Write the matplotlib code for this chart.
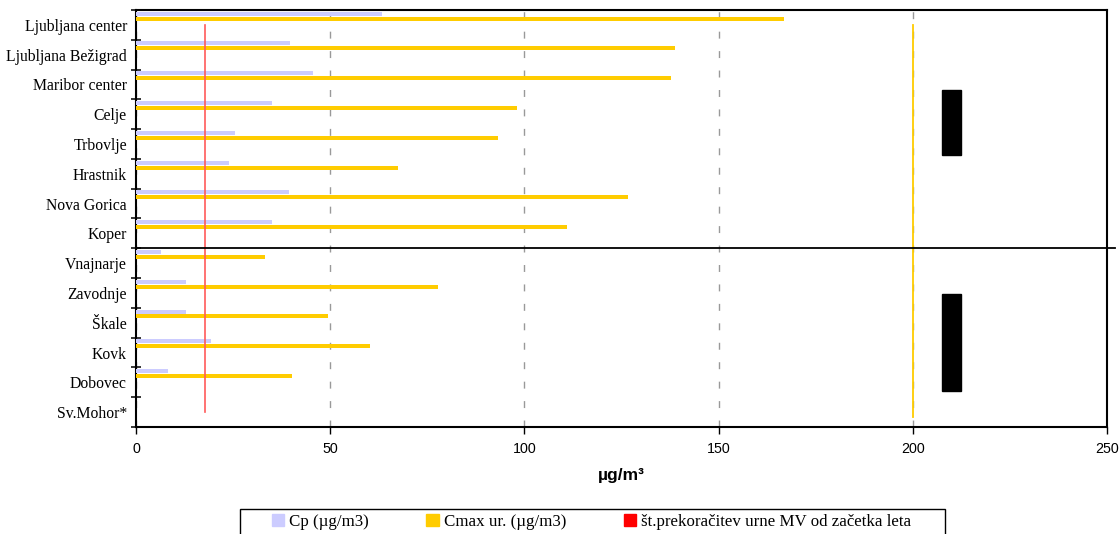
"""Horizontal bar chart: hourly concentrations per measuring station."""
import matplotlib
matplotlib.use("Agg")
import matplotlib.pyplot as plt
from matplotlib.patches import Patch, Rectangle
import numpy as np

STATIONS = ["Ljubljana center", "Ljubljana Bežigrad", "Maribor center", "Celje",
            "Trbovlje", "Hrastnik", "Nova Gorica", "Koper", "Vnajnarje",
            "Zavodnje", "Škale", "Kovk", "Dobovec", "Sv.Mohor*"]
CP = [63.3, 39.6, 45.5, 34.9, 25.4, 23.9, 39.3, 34.9, 6.4, 13.0, 13.0, 19.2, 8.2, 0.0]
CMAX = [166.8, 138.8, 137.7, 98.1, 93.2, 67.4, 126.7, 111.0, 33.2, 77.8, 49.4, 60.2, 40.2, 0.0]
LIMIT_HOURLY = 200      # gold vertical line
RED_LINE = 17.8         # red vertical line
# black blocks: (x0, x1, y0, y1) in value / station-band units
BLOCKS = [(207.5, 212.4, 2.68, 4.87), (207.5, 212.4, 9.53, 12.79)]
SPLIT = 8               # urban / rural separator

CP_C, CMAX_C, RED_C = "#ccccff", "#ffcc00", "#ff0000"
SERIF = ["Liberation Serif", "DejaVu Serif"]
SANS = ["Liberation Sans", "DejaVu Sans"]

W, H = 1120, 534
fig = plt.figure(figsize=(W / 100, H / 100), dpi=100)
ax = fig.add_axes([0.1214, 0.2004, 0.8670, 0.7809])

n = len(STATIONS)
y = np.arange(n)
ax.barh(y + 0.124, CP, height=0.134, color=CP_C, zorder=3)
ax.barh(y + 0.29, CMAX, height=0.134, color=CMAX_C, zorder=3)

ax.plot([RED_LINE, RED_LINE], [0.5, n - 0.5], color="#ff5a5a", lw=1.2, zorder=4)
ax.plot([LIMIT_HOURLY, LIMIT_HOURLY], [0.5, n - 0.35], color=CMAX_C, lw=1.3, zorder=4)
for x0, x1, y0, y1 in BLOCKS:
    ax.add_patch(Rectangle((x0, y0), x1 - x0, y1 - y0, color="black", zorder=4))
ax.plot([0, 252], [SPLIT, SPLIT], color="black", lw=1.3, clip_on=False, zorder=5)

ax.set_xlim(0, 250)
ax.set_ylim(n, 0)
ax.set_xticks([0, 50, 100, 150, 200, 250])
ax.set_yticks(y + 0.5)
ax.set_yticklabels(STATIONS, family=SERIF, fontsize=11.3)
ax.set_yticks(np.arange(n + 1), minor=True)
ax.tick_params(axis="y", which="major", length=0, pad=6.5)
ax.tick_params(axis="y", which="minor", length=7, direction="inout", width=1.1)
ax.tick_params(axis="x", length=5, direction="out", width=1.0, pad=5.5, labelsize=10.3)
for lab in ax.get_xticklabels():
    lab.set_family(SANS)

ax.grid(axis="x", color="#999999", lw=1.0, ls=(0, (5, 9)), zorder=1)
for s in ax.spines.values():
    s.set_linewidth(1.5)

ax.set_xlabel("µg/m³", fontsize=12.5, fontweight="bold", labelpad=9, family=SANS)

# legend: frame drawn by hand, runs off the bottom edge like the original
fig.patches.append(Rectangle((240 / W, -0.02), (945 - 240) / W, 0.02 + 1 - 509 / H,
                             transform=fig.transFigure, fill=False,
                             edgecolor="black", lw=1.0))
handles = [Patch(color=CP_C, label="Cp (µg/m3)"),
           Patch(color=CMAX_C, label="Cmax ur. (µg/m3)"),
           Patch(color=RED_C, label="št.prekoračitev urne MV od začetka leta")]
fig.legend(handles=handles, loc="upper left", bbox_to_anchor=(272 / W, 1 - 514 / H),
           ncol=3, frameon=False, prop={"family": SERIF, "size": 12.2},
           handlelength=0.71, handleheight=0.65, handletextpad=0.3,
           columnspacing=3.4, borderpad=0, borderaxespad=0)

fig.savefig("out.png", dpi=100, facecolor="white")
